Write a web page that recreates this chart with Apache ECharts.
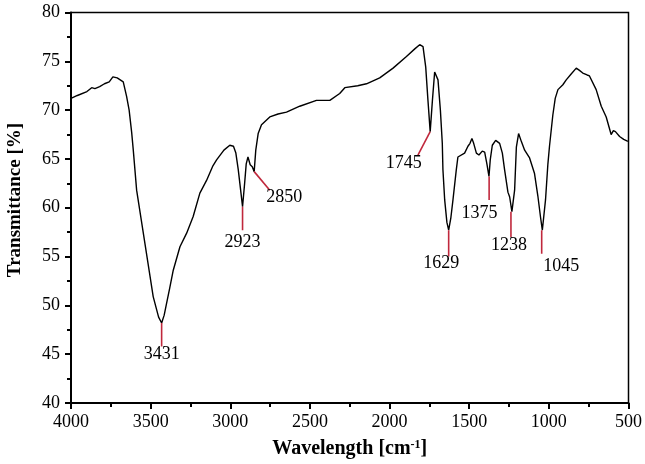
<!DOCTYPE html>
<html>
<head>
<meta charset="utf-8">
<script src="https://cdn.jsdelivr.net/npm/echarts@6/dist/echarts.min.js"></script>
<style>html,body{margin:0;padding:0;background:#fff}#c{width:645px;height:464px}</style>
</head>
<body>
<div id="c"></div>
<script>
// Spectrum (wavenumber, transmittance)
const wavenumbers = [4000,3960,3900,3870,3850,3820,3790,3760,3737,3710,3672,3651,3635,3619,3609,3588,3546,3484,3450,3431,3415,3400,3380,3358,3316,3274,3233,3191,3149,3109,3086,3040,3003,2980,2965,2950,2935,2923,2910,2900,2889,2875,2862,2850,2840,2825,2804,2752,2700,2647,2564,2459,2375,2313,2281,2200,2145,2062,1978,1894,1840,1811,1790,1773,1759,1745,1731,1717,1706,1696,1681,1669,1665,1654,1640,1629,1615,1602,1581,1571,1560,1529,1508,1495,1483,1472,1455,1439,1418,1403,1389,1376,1368,1355,1334,1309,1292,1278,1257,1246,1232,1215,1204,1190,1173,1152,1121,1090,1069,1052,1041,1021,1006,996,975,960,943,912,891,860,828,810,787,760,745,703,671,640,609,595,582,556,530,504];
const transmittance = [71.2,71.5,71.9,72.3,72.2,72.4,72.7,72.9,73.4,73.3,72.9,71.4,70.0,67.7,65.9,61.8,57.4,50.9,48.8,48.2,49.0,50.2,51.8,53.6,56.0,57.4,59.1,61.5,62.8,64.3,64.9,65.9,66.4,66.3,65.6,63.9,61.8,60.1,62.5,64.5,65.2,64.4,64.2,63.7,65.9,67.6,68.5,69.3,69.6,69.8,70.4,71.0,71.0,71.7,72.3,72.5,72.7,73.3,74.3,75.5,76.3,76.7,76.5,74.4,71.0,67.8,71.0,73.9,74.1,73.1,70.0,66.6,63.9,60.8,58.5,57.7,59.0,60.8,63.9,65.2,65.4,65.6,66.3,66.6,67.1,66.6,65.6,65.4,65.8,65.7,64.5,63.2,64.9,66.4,66.9,66.6,65.6,63.9,61.6,61.1,59.6,61.8,66.2,67.6,66.8,65.9,65.1,63.5,61.2,59.0,57.7,60.8,64.5,66.3,69.5,71.2,72.1,72.6,73.1,73.7,74.3,74.1,73.8,73.6,73.5,72.1,70.4,69.3,67.5,67.9,67.8,67.3,67.0,66.8];

// Peak annotations
const peakLabels = ['3431','2923','2850','1745','1629','1375','1238','1045'];
const peakX      = [3431, 2923, 2850, 1745, 1629, 1375, 1238, 1045];
const peakY      = [48.2, 60.1, 63.7, 67.8, 57.7, 63.2, 59.6, 57.7];
const lineEndX   = [3431, 2923, 2752, 1822, 1629, 1375, 1238, 1045];
const lineEndY   = [45.8, 57.7, 61.8, 65.4, 55.0, 60.8, 57.0, 55.3];
const labelX     = [3431, 2923, 2661, 1911, 1675, 1435, 1251, 922];
const labelY     = [45.0, 56.5, 61.1, 64.6, 54.3, 59.4, 56.2, 54.0];

// Axis ticks
const xMin = 500, xMax = 4000, xStep = 500;
const yMin = 40, yMax = 80, yStep = 5;

const font = 'Liberation Serif, Times New Roman, serif';
const red = '#c0283c';

const series = [{
  type: 'line',
  data: wavenumbers.map((w, i) => [w, transmittance[i]]),
  showSymbol: false,
  symbol: 'none',
  lineStyle: {color: '#000', width: 1.4},
  z: 3
}];
peakLabels.forEach((lab, i) => {
  series.push({
    type: 'line',
    data: [[peakX[i], peakY[i]], [lineEndX[i], lineEndY[i]]],
    symbol: 'none',
    lineStyle: {color: red, width: 1.6},
    z: 4
  });
});
series.push({
  type: 'scatter',
  symbolSize: 1,
  itemStyle: {color: 'rgba(0,0,0,0)'},
  data: peakLabels.map((lab, i) => ({name: lab, value: [labelX[i], labelY[i]]})),
  label: {
    show: true, position: 'inside', formatter: p => p.name,
    fontFamily: font, fontSize: 18, color: '#000', textBorderWidth: 0, opacity: 1
  },
  z: 5
});

const chart = echarts.init(document.getElementById('c'));
chart.setOption({
  animation: false,
  grid: {left: 71, right: 16, top: 12.5, bottom: 61, show: true, borderColor: '#000', borderWidth: 1.5, backgroundColor: 'transparent'},
  xAxis: {
    type: 'value', min: xMin, max: xMax, interval: xStep, inverse: true,
    axisLine: {show: true, lineStyle: {color: '#000', width: 2}},
    axisTick: {show: true, length: 6, lineStyle: {color: '#000', width: 2}},
    minorTick: {show: true, splitNumber: 2, length: 4, lineStyle: {color: '#000', width: 2}},
    splitLine: {show: false},
    axisLabel: {fontFamily: font, fontSize: 18, color: '#000', margin: 10, formatter: v => String(v)},
    name: 'Wavelength [cm{sup|-1}]',
    nameLocation: 'middle', nameGap: 36,
    nameTextStyle: {fontFamily: font, fontSize: 20, fontWeight: 'bold', color: '#000',
      rich: {sup: {fontFamily: font, fontSize: 12, fontWeight: 'bold', verticalAlign: 'top', padding: [0,0,8,0], color: '#000'}}}
  },
  yAxis: {
    type: 'value', min: yMin, max: yMax, interval: yStep,
    axisLine: {show: true, lineStyle: {color: '#000', width: 2}},
    axisTick: {show: true, length: 6, lineStyle: {color: '#000', width: 2}},
    minorTick: {show: true, splitNumber: 2, length: 4, lineStyle: {color: '#000', width: 2}},
    splitLine: {show: false},
    axisLabel: {fontFamily: font, fontSize: 18, color: '#000', margin: 11, formatter: v => String(v)}
  },
  graphic: [{
    type: 'text', x: 15, y: 200, rotation: Math.PI / 2,
    style: {text: 'Transmittance [%]', fontFamily: font, fontSize: 19, fontWeight: 'bold', fill: '#000', textAlign: 'center', textVerticalAlign: 'middle'}
  }],
  series: series
});
</script>
</body>
</html>
